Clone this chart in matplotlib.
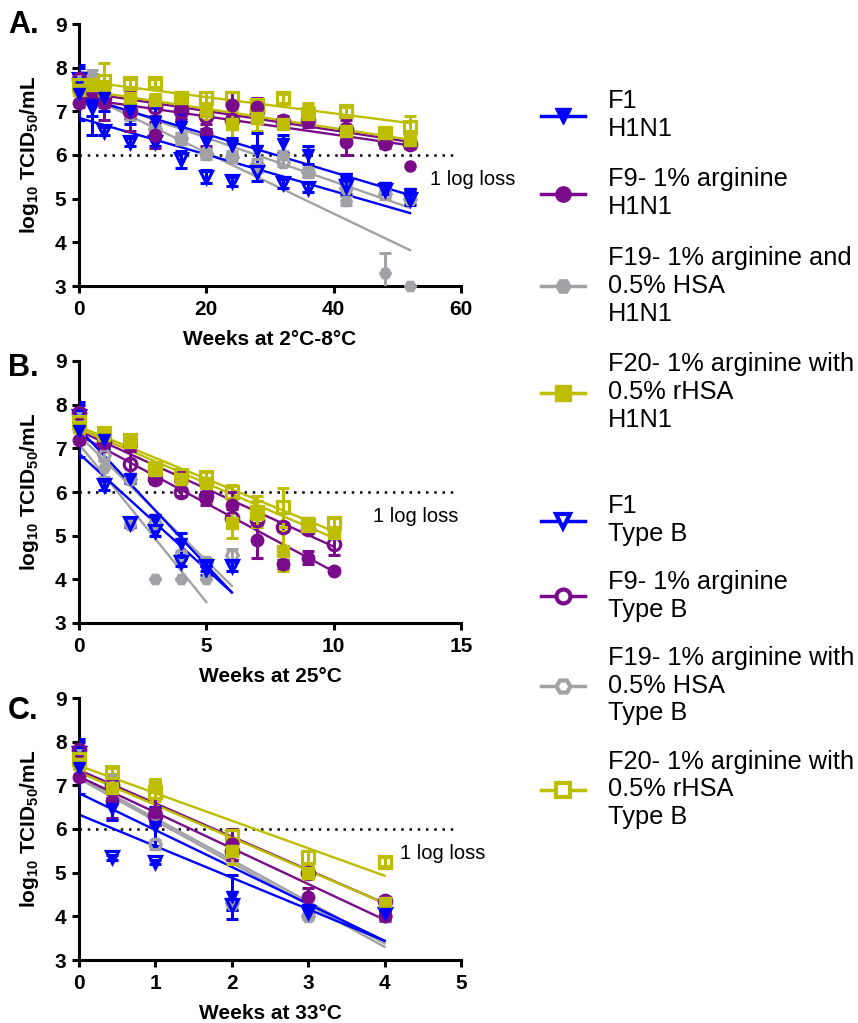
import matplotlib
matplotlib.use('Agg')
import matplotlib.pyplot as plt
from matplotlib.lines import Line2D

plt.rcParams['font.family'] = ['Liberation Sans', 'DejaVu Sans']
plt.rcParams['mathtext.fontset'] = 'custom'
plt.rcParams['mathtext.rm'] = 'Liberation Sans:bold'
plt.rcParams['mathtext.bf'] = 'Liberation Sans:bold'
plt.rcParams['mathtext.default'] = 'rm'

# ---- data (log10 TCID50/mL) ----
LOSS_LINE = 6

# A: 2-8 C, weeks
a_x = [0, 2, 4, 8, 12, 16, 20, 24, 28, 32, 36, 42, 48, 52]
a_f1_h = [7.4, 7.15, 7.3, 7.0, 6.75, 6.65, 6.3, 6.2, 6.1, 6.25, 6.0, 5.45, 5.25, 5.1]
a_f1_h_err = [0.6, 0.7, 0.3, 0.3, 0.35, 0.3, 0.3, 0.2, 0.4, 0.2, 0.2, 0.1, 0.1, 0.1]
a_f9_h = [7.2, 7.5, 7.2, 7.0, 6.45, 7.1, 6.5, 7.15, 7.1, 6.8, 6.8, 6.3, 6.25, 6.25]
a_f9_h_err = [0.1, 0.2, 0.4, 0.45, 0.3, 0.25, 0.3, 0.3, 0.2, 0.1, 0.1, 0.3, 0.1, 0.1]
a_f19_h = [7.6, 7.8, 7.4, 7.0, 6.65, 6.35, 6.0, 6.0, 5.7, 6.0, 5.6, 4.95, 3.3, 3.0]
a_f19_h_err = [0.2, 0.15, 0.2, 0.2, 0.1, 0.1, 0.1, 0.1, 0.1, 0.1, 0.1, 0.1, 0.45, 0.0]
a_f20_h = [7.5, 7.6, 7.5, 7.3, 7.25, 7.3, 7.0, 6.7, 6.85, 6.7, 6.95, 6.55, 6.5, 6.35]
a_f20_h_err = [0.1, 0.2, 0.2, 0.1, 0.15, 0.1, 0.2, 0.3, 0.3, 0.1, 0.25, 0.1, 0.15, 0.2]
a_f1_b = [7.75, 7.1, 6.55, 6.3, 6.3, 5.9, 5.5, 5.4, 5.6, 5.35, 5.25, 5.3, 5.2, 5.0]
a_f1_b_err = [0.3, 0.2, 0.1, 0.1, 0.1, 0.2, 0.15, 0.1, 0.2, 0.1, 0.1, 0.2, 0.1, 0.15]
a_f9_b = [7.75, 7.5, 7.3, 7.0, 7.1, 7.0, 6.9, 6.8, 7.0, 6.75, 6.8, 6.6, 6.3, 6.25]
a_f9_b_err = [0.1, 0.2, 0.2, 0.15, 0.2, 0.2, 0.2, 0.1, 0.1, 0.1, 0.15, 0.2, 0.1, 0.1]
a_f19_b = [7.7, 7.6, 7.3, 6.95, 6.6, 6.4, 6.05, 5.95, 5.8, 5.85, 5.6, 5.25, 5.1, 5.0]
a_f19_b_err = [0.2, 0.2, 0.1, 0.1, 0.1, 0.1, 0.1, 0.1, 0.1, 0.1, 0.1, 0.2, 0.1, 0.1]
a_f20_b = [7.6, 7.6, 7.7, 7.65, 7.65, 7.3, 7.3, 7.3, 7.15, 7.3, 6.95, 7.0, 6.5, 6.65]
a_f20_b_err = [0.2, 0.2, 0.4, 0.1, 0.1, 0.1, 0.15, 0.15, 0.1, 0.1, 0.2, 0.1, 0.1, 0.25]
a_extra_x = [52]
a_extra_y = [5.75]
# linear fits: value at week 0 and at end week
a_fit_end = 52
a_fit = {'f1_h': (7.35, 5.08), 'f9_h': (7.3, 6.22), 'f19_h': (7.45, 3.82), 'f20_h': (7.5, 6.35),
         'f1_b': (6.85, 4.67), 'f9_b': (7.45, 6.3), 'f19_b': (7.4, 4.79), 'f20_b': (7.7, 6.73)}

# B: 25 C, weeks
b_x = [0, 1, 2, 3, 4, 5, 6, 7, 8, 9, 10]
b_f1_h = [7.4, 7.2, 6.3, 5.35, 4.8, 4.2]
b_f1_h_err = [0.6, 0.2, 0.1, 0.1, 0.25, 0.1]
b_f9_h = [7.2, 7.2, 7.05, 6.35, 6.25, 5.85, 5.7, 4.9, 4.35, 4.5, 4.2]
b_f9_h_err = [0.1, 0.25, 0.1, 0.1, 0.2, 0.15, 0.3, 0.4, 0.1, 0.15, 0.05]
b_f19_h = [7.5, 6.55, 5.25, 4.0, 4.0, 4.0]
b_f19_h_err = [0.2, 0.2, 0.05, 0.0, 0.0, 0.0]
b_f20_h = [7.5, 7.3, 7.15, 6.5, 6.3, 6.2, 5.3, 5.5, 4.65, 5.3, 5.05]
b_f20_h_err = [0.2, 0.15, 0.1, 0.1, 0.1, 0.1, 0.35, 0.3, 0.45, 0.1, 0.1]
b_f1_b = [7.75, 6.15, 5.3, 5.1, 4.4, 4.3, 4.3]
b_f1_b_err = [0.3, 0.1, 0.1, 0.1, 0.1, 0.1, 0.1]
b_f9_b = [7.8, 7.15, 6.65, 6.3, 6.0, 5.9, 5.4, 5.35, 5.2, 5.15, 4.8]
b_f9_b_err = [0.1, 0.1, 0.3, 0.1, 0.1, 0.1, 0.2, 0.1, 0.1, 0.1, 0.25]
b_f19_b = [7.7, 6.85, 6.3, 5.3, 4.55, 4.4, 4.55]
b_f19_b_err = [0.2, 0.15, 0.1, 0.1, 0.1, 0.1, 0.15]
b_f20_b = [7.6, 7.35, 7.2, 6.55, 6.4, 6.35, 6.0, 5.55, 5.65, 5.25, 5.3]
b_f20_b_err = [0.2, 0.1, 0.1, 0.1, 0.1, 0.1, 0.15, 0.35, 0.45, 0.1, 0.1]
b_fit = {'f1_h': (7.45, 3.7, 6), 'f9_h': (7.3, 4.18, 10), 'f19_h': (7.1, 3.48, 5), 'f20_h': (7.45, 4.95, 10),
         'f1_b': (6.88, 3.7, 6), 'f9_b': (7.4, 4.75, 10), 'f19_b': (7.3, 3.85, 6), 'f20_b': (7.5, 5.1, 10)}

# C: 33 C, weeks
c_x = [0, 0.43, 1, 2, 3, 4]
c_f1_h = [7.4, 6.45, 6.05, 4.45, 4.15, 4.05]
c_f1_h_err = [0.6, 0.25, 0.45, 0.5, 0.1, 0.1]
c_f9_h = [7.2, 6.65, 6.4, 5.65, 4.45, 4.0]
c_f9_h_err = [0.1, 0.4, 0.3, 0.35, 0.2, 0.1]
c_f19_h = [7.6, 7.15, 6.25, 4.25, 4.0, 4.0]
c_f19_h_err = [0.2, 0.1, 0.1, 0.1, 0.0, 0.0]
c_f20_h = [7.5, 6.95, 7.0, 5.5, 5.0, 4.3]
c_f20_h_err = [0.2, 0.3, 0.15, 0.3, 0.15, 0.1]
c_f1_b = [7.75, 5.35, 5.25, 4.25, 4.1, 4.05]
c_f1_b_err = [0.3, 0.05, 0.05, 0.1, 0.1, 0.05]
c_f9_b = [7.8, 7.0, 6.3, 5.5, 5.0, 4.35]
c_f9_b_err = [0.1, 0.2, 0.2, 0.2, 0.1, 0.1]
c_f19_b = [7.7, 7.1, 5.65, 4.3, 4.0, 4.0]
c_f19_b_err = [0.2, 0.1, 0.1, 0.1, 0.05, 0.05]
c_f20_b = [7.6, 7.3, 6.85, 5.85, 5.35, 5.25]
c_f20_b_err = [0.2, 0.1, 0.2, 0.15, 0.15, 0.1]
c_fit_end = 4
c_fit = {'f1_h': (6.82, 3.44), 'f9_h': (7.2, 3.92), 'f19_h': (7.15, 3.3), 'f20_h': (7.3, 4.3),
         'f1_b': (6.33, 3.44), 'f9_b': (7.35, 4.3), 'f19_b': (7.2, 3.38), 'f20_b': (7.45, 4.93)}

BLUE = '#0000ff'
PURPLE = '#7a0c8c'
GRAY = '#a2a2a6'
OLIVE = '#bebe00'

# key -> colour, marker, filled
style = {
    'f1_h': (BLUE, 'v', True), 'f9_h': (PURPLE, 'o', True),
    'f19_h': (GRAY, 'H', True), 'f20_h': (OLIVE, 's', True),
    'f1_b': (BLUE, 'v', False), 'f9_b': (PURPLE, 'o', False),
    'f19_b': (GRAY, 'H', False), 'f20_b': (OLIVE, 's', False),
}

panels = [
    ('A.', a_x, {'f1_h': (a_f1_h, a_f1_h_err), 'f9_h': (a_f9_h, a_f9_h_err), 'f19_h': (a_f19_h, a_f19_h_err),
                 'f20_h': (a_f20_h, a_f20_h_err), 'f1_b': (a_f1_b, a_f1_b_err), 'f9_b': (a_f9_b, a_f9_b_err),
                 'f19_b': (a_f19_b, a_f19_b_err), 'f20_b': (a_f20_b, a_f20_b_err)},
     {k: (v[0], v[1], a_fit_end) for k, v in a_fit.items()}, 60, [0, 20, 40, 60], 'Weeks at 2°C-8°C'),
    ('B.', b_x, {'f1_h': (b_f1_h, b_f1_h_err), 'f9_h': (b_f9_h, b_f9_h_err), 'f19_h': (b_f19_h, b_f19_h_err),
                 'f20_h': (b_f20_h, b_f20_h_err), 'f1_b': (b_f1_b, b_f1_b_err), 'f9_b': (b_f9_b, b_f9_b_err),
                 'f19_b': (b_f19_b, b_f19_b_err), 'f20_b': (b_f20_b, b_f20_b_err)},
     b_fit, 15, [0, 5, 10, 15], 'Weeks at 25°C'),
    ('C.', c_x, {'f1_h': (c_f1_h, c_f1_h_err), 'f9_h': (c_f9_h, c_f9_h_err), 'f19_h': (c_f19_h, c_f19_h_err),
                 'f20_h': (c_f20_h, c_f20_h_err), 'f1_b': (c_f1_b, c_f1_b_err), 'f9_b': (c_f9_b, c_f9_b_err),
                 'f19_b': (c_f19_b, c_f19_b_err), 'f20_b': (c_f20_b, c_f20_b_err)},
     {k: (v[0], v[1], c_fit_end) for k, v in c_fit.items()}, 5, [0, 1, 2, 3, 4, 5], 'Weeks at 33°C'),
]

W, H = 858, 1023
fig = plt.figure(figsize=(W / 100, H / 100), dpi=100)
tops = [24, 361, 698]
letter_y = [25, 368, 711]
order = ['f19_b', 'f19_h', 'f1_b', 'f9_b', 'f20_b', 'f9_h', 'f20_h', 'f1_h']

for (letter, xs, series, fits, xmax, xticks, xlabel), top, ly in zip(panels, tops, letter_y):
    ax = fig.add_axes([79 / W, 1 - (top + 262) / H, 382 / W, 262 / H])
    ax.set_xlim(0, xmax)
    ax.set_ylim(3, 9)
    ax.axhline(LOSS_LINE, xmin=0, xmax=0.985, color='black', lw=1.8, ls=(0, (1, 2.3)), zorder=1)
    for key in order:
        col, mk, filled = style[key]
        ys, err = series[key]
        x = xs[:len(ys)]
        y0, y1, xe = fits[key]
        ax.plot([0, xe], [y0, y1], color=col, lw=1.7, zorder=2)
        ax.errorbar(x, ys, yerr=err, fmt='none', ecolor=col, elinewidth=2.2, capsize=4.5,
                    capthick=2.2, zorder=3)
        ms = 9 if mk != 'H' else 8.5
        if filled:
            ax.plot(x, ys, ls='none', marker=mk, ms=ms, color=col, mec=col, clip_on=False, zorder=4)
        else:
            ax.plot(x, ys, ls='none', marker=mk, ms=ms, mfc='none', mec=col, mew=2.3,
                    clip_on=False, zorder=4)
    if letter == 'A.':
        ax.plot(a_extra_x, a_extra_y, ls='none', marker='o', ms=8, color=PURPLE, zorder=4)
    for s in ['top', 'right']:
        ax.spines[s].set_visible(False)
    for s in ['left', 'bottom']:
        ax.spines[s].set_linewidth(2.2)
    ax.set_xticks(xticks)
    ax.set_yticks(range(3, 10))
    ax.tick_params(direction='out', length=5, width=2.2, labelsize=15, pad=4)
    ax.tick_params(axis='x', pad=5)
    for lab in ax.get_xticklabels() + ax.get_yticklabels():
        lab.set_fontweight('bold')
    ax.set_xlabel(xlabel, fontsize=15, fontweight='bold', labelpad=8)
    ax.set_ylabel(r'log$_{10}$ TCID$_{50}$/mL', fontsize=15, fontweight='bold', labelpad=10)
    ax.text(xmax * (0.92 if letter == 'A.' else (0.77 if letter == 'B.' else 0.84)), 5.45, '1 log loss',
            fontsize=14.5, va='center', ha='left')
    fig.text(8 / W, 1 - ly / H, letter, fontsize=22, fontweight='bold', va='center', ha='left')

# legends
def handle(key):
    col, mk, filled = style[key]
    if filled:
        return Line2D([], [], color=col, lw=2.5, marker=mk, ms=11, mec=col, mfc=col)
    return Line2D([], [], color=col, lw=2.5, marker=mk, ms=10, mec=col, mfc='white', mew=3)

h1_labels = ['F1\nH1N1', 'F9- 1% arginine\nH1N1', 'F19- 1% arginine and\n0.5% HSA\nH1N1',
             'F20- 1% arginine with\n0.5% rHSA\nH1N1']
b_labels = ['F1\nType B', 'F9- 1% arginine\nType B', 'F19- 1% arginine with\n0.5% HSA\nType B',
            'F20- 1% arginine with\n0.5% rHSA\nType B']
kw = dict(loc='upper left', frameon=False, fontsize=18.3, handlelength=1.72, handletextpad=0.92,
          borderpad=0, borderaxespad=0)
fig.legend([handle(k) for k in ['f1_h', 'f9_h', 'f19_h', 'f20_h']], h1_labels,
           bbox_to_anchor=(541 / W, 1 - 89 / H), labelspacing=1.05, **kw)
fig.legend([handle(k) for k in ['f1_b', 'f9_b', 'f19_b', 'f20_b']], b_labels,
           bbox_to_anchor=(541 / W, 1 - 494 / H), labelspacing=0.95, **kw)

fig.savefig('out.png', dpi=100)
